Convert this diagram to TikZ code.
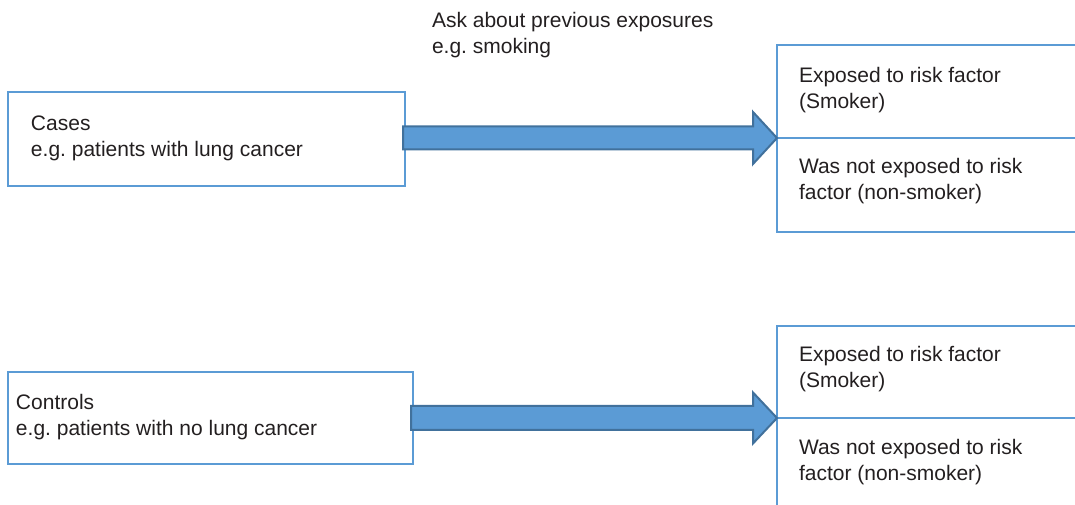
\documentclass[tikz,border=0pt]{standalone}
\usepackage{fontspec}
\setmainfont{Liberation Sans}
\usetikzlibrary{calc}
\definecolor{boxblue}{RGB}{91,155,213}
\definecolor{arrowedge}{RGB}{65,113,156}
\definecolor{txt}{RGB}{35,31,32}
\frenchspacing
\begin{document}
\begin{tikzpicture}[x=0.75pt,y=-0.75pt,
  box/.style={draw=boxblue,line width=2pt,rectangle,inner sep=0pt,outer sep=0pt,anchor=north west},
  lbl/.style={anchor=base west,inner sep=0pt,outer sep=0pt,align=left,text=txt,font=\fontsize{15.75}{19.5}\selectfont\frenchspacing},
  bigarrow/.style={fill=boxblue,draw=arrowedge,line width=1.5pt,line join=miter}]
\useasboundingbox (0,0) rectangle (1075,505);
\clip (0,0) rectangle (1075,505);
% left boxes
\node[box,minimum width=297.75pt,minimum height=70.5pt] (cases) at (8,92) {};
\node[box,minimum width=303.75pt,minimum height=69pt] (controls) at (8,372) {};
% right boxes
\node[box,minimum width=240pt,minimum height=69.75pt] (exp1) at (777,45) {};
\node[box,minimum width=240pt,minimum height=70.5pt] (nexp1) at (777,138) {};
\node[box,minimum width=240pt,minimum height=69pt] (exp2) at (777,326) {};
\node[box,minimum width=240pt,minimum height=75pt] (nexp2) at (777,418) {};
% texts (anchor = baseline of the last line)
\node[lbl] (ask) at (432,54) {Ask about previous exposures\\e.g. smoking};
\node[lbl] (casesT) at (31,157) {Cases\\e.g. patients with lung cancer};
\node[lbl] (controlsT) at (16,436) {Controls\\e.g. patients with no lung cancer};
\node[lbl] (e1T) at (799,109) {Exposed to risk factor\\(Smoker)};
\node[lbl] (n1T) at (799,200) {Was not exposed to risk\\factor (non-smoker)};
\node[lbl] (e2T) at (799,388) {Exposed to risk factor\\(Smoker)};
\node[lbl] (n2T) at (799,481) {Was not exposed to risk\\factor (non-smoker)};
% arrows
\coordinate (t1) at (exp1.south west);
\coordinate (s1) at (cases.east |- t1);
\draw[bigarrow] ($(s1)+(-2,-11.5)$) -- ($(t1)+(-24,-11.5)$) -- ($(t1)+(-24,-26)$) -- (t1)
  -- ($(t1)+(-24,26)$) -- ($(t1)+(-24,11.5)$) -- ($(s1)+(-2,11.5)$) -- cycle;
\coordinate (t2) at (exp2.south west);
\coordinate (s2) at (controls.east |- t2);
\draw[bigarrow] ($(s2)+(-2,-12)$) -- ($(t2)+(-24,-12)$) -- ($(t2)+(-24,-25.5)$) -- (t2)
  -- ($(t2)+(-24,25.5)$) -- ($(t2)+(-24,12)$) -- ($(s2)+(-2,12)$) -- cycle;
\end{tikzpicture}
\end{document}
